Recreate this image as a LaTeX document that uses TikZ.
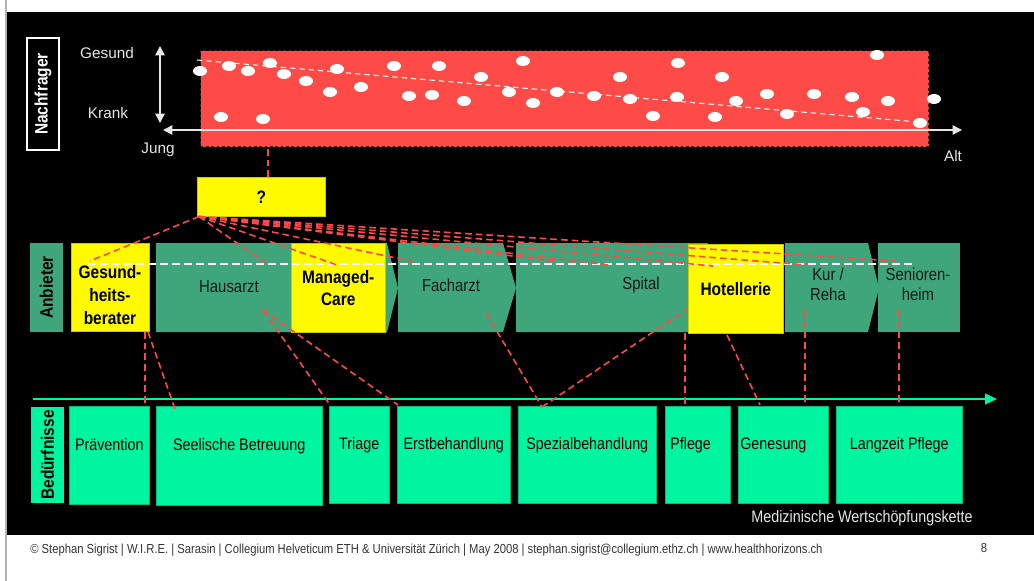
\documentclass[tikz,border=0pt]{standalone}
\usepackage{fontspec}
\setmainfont{Liberation Sans}
\newfontfamily\cond[FakeStretch=0.86]{Liberation Sans}
\usetikzlibrary{arrows.meta}

\definecolor{markt}{RGB}{255,75,72}
\definecolor{strich}{RGB}{255,72,72}
\definecolor{prov}{RGB}{62,166,122}
\definecolor{need}{RGB}{0,245,160}
\definecolor{gelb}{RGB}{255,250,0}
\definecolor{hell}{RGB}{230,230,230}

\tikzset{
  blk/.style 2 args={rectangle, anchor=north west, inner sep=0pt,
    minimum width=#1*0.75pt, minimum height=#2*0.75pt},
  side/.style={rectangle, rotate=90, inner sep=0pt,
    font=\cond\bfseries\fontsize{13.5}{16}\selectfont},
  gelbbox/.style={fill=gelb, draw=gelb!80!black, line width=0.4pt, align=center,
    font=\cond\bfseries\fontsize{13.5}{16.5}\selectfont},
  provtext/.style={align=center, text=black!90, inner sep=0pt,
    font=\cond\fontsize{13}{15}\selectfont},
  needbox/.style 2 args={blk={#1}{#2}, fill=need, draw=need!75!black, line width=0.4pt,
    text height=9pt, text depth=16.5pt, font=\cond\fontsize{12.5}{15}\selectfont},
  axislbl/.style={text=hell, inner sep=0pt, font=\fontsize{11.5}{14}\selectfont},
  rdash/.style={draw=strich, dash pattern=on 5pt off 3pt, line width=1.2pt},
  wdash/.style={draw=white, dash pattern=on 6pt off 3pt, line width=1.2pt},
  pfeil/.style={draw=hell, line width=1.1pt},
}

\begin{document}
\begin{tikzpicture}[x=0.75pt,y=-0.75pt]

		\useasboundingbox (0,0) rectangle (1034,581);
		\fill[black] (5,12) rectangle (1034,535);
		\draw[gray!60, line width=1.5pt] (6,0) -- (6,581);

		% Nachfrager
		\node[side, draw=white, line width=1pt, text=white, minimum width=112*0.75pt, minimum height=32*0.75pt] (nachfrager) at (43,94) {Nachfrager};
		\node[blk={728}{96}, fill=markt, draw=black!70!markt, dash pattern=on 2pt off 2pt, line width=1pt] (markt) at (200,50) {};

		\foreach \x/\y in {200/71,229/66,248/71,270/63,284/74,306/81,330/92,337/69,361/87,394/66,
		    409/96,432/95,439/66,464/101,481/77,509/92,523/61,221/117,263/119,533/103,557/92,594/96,
		    620/77,630/99,653/116,678/63,677/97,715/117,722/77,736/101,767/94,787/114,814/94,852/97,
		    863/112,877/55,888/101,920/123,934/99}
		    \fill[white] (\x,\y) ellipse [x radius=5.25pt, y radius=3.75pt];

		\draw[white, dash pattern=on 4pt off 3pt, line width=0.8pt] (197,60) -- (918,122);
		\draw[pfeil, {Triangle[length=7pt,width=7pt]}-{Triangle[length=7pt,width=7pt]}] (160,46) -- (160,123);
		\draw[pfeil, {Triangle[length=7pt,width=7pt]}-{Triangle[length=7pt,width=7pt]}] (163,130) -- (962,130);

		\node[axislbl] (gesund) at (107,53) {Gesund};
		\node[axislbl] (krank) at (108,113) {Krank};
		\node[axislbl] (jung) at (158,150) {Jung};
		\node[axislbl] (alt) at (953,156) {Alt};

		\node[blk={128}{39}, gelbbox] (frage) at (197,177) {?};
		\draw[rdash] ([xshift=5pt]frage.north) -- ([xshift=5pt]frage.north |- markt.south);

		% Anbieter
		\node[side, fill=prov, minimum width=89*0.75pt, minimum height=33*0.75pt] (anbieter) at (46.5,287.5) {Anbieter};

		\foreach \xa/\xb/\xc in {156/387/398, 398/503/516, 516/708/720, 785/868/879}
		    \fill[prov] (\xa,243) -- (\xb,243) -- (\xc,288) -- (\xb,332) -- (\xa,332) -- cycle;
		\fill[prov] (878,243) rectangle (960,332);

		\node[provtext] (hausarzt) at (229,287) {Hausarzt};
		\node[provtext] (facharzt) at (451,285) {Facharzt};
		\node[provtext] (spital) at (641,285) {Spital};
		\node[provtext] (kur) at (828,284) {Kur /\\Reha};
		\node[provtext] (senioren) at (918,284) {Senioren-\\heim};

		\node[blk={78}{88}, gelbbox] (berater) at (71,243) {};
		\node[gelbbox, fill=none, draw=none, inner sep=0pt, font=\cond\bfseries\fontsize{13.5}{17}\selectfont] (beratertext) at (110,295) {Gesund-\\heits-\\berater};
		\node[blk={94}{89}, gelbbox] (managed) at (291,243) {Managed-\\Care};
		\node[blk={95}{89}, gelbbox] (hotel) at (688,244) {Hotellerie};

		\draw[wdash] (88,264) -- (915,264);

		\coordinate (f1) at (90,261);
		\coordinate (f2) at (267,264);
		\coordinate (f3) at (337,265);
		\coordinate (f4) at (415,262);
		\coordinate (f5) at (560,262);
		\coordinate (f6) at (610,265);
		\coordinate (f7) at (713,266);
		\coordinate (f8) at (807,265);
		\coordinate (f9) at (895,261);
		\foreach \i in {1,...,9}
		    \draw[rdash] ([xshift=1.5pt]frage.south west) -- (f\i);

		% Bedürfnisse
		\draw[need, line width=1.6pt, -{Triangle[length=9pt,width=8pt]}] (33,399) -- (997,399);

		\node[side, fill=need, minimum width=96*0.75pt, minimum height=33*0.75pt] (beduerf) at (47.5,455) {Bedürfnisse};
		\node[needbox={80}{98}] (praev) at (69,406) {Prävention};
		\node[needbox={166}{99}] (seele) at (156,406) {Seelische Betreuung};
		\node[needbox={60}{97}] (triage) at (329,406) {Triage};
		\node[needbox={113}{97}] (erst) at (397,406) {Erstbehandlung};
		\node[needbox={138}{97}] (spez) at (518,406) {Spezialbehandlung};
		\node[needbox={65}{97}, text width=55*0.75pt, inner xsep=5*0.75pt, align=left] (pflege) at (665,406) {Pflege};
		\node[needbox={90}{97}, text width=86*0.75pt, inner xsep=2*0.75pt, align=left] (genesung) at (738,406) {Genesung};
		\node[needbox={126}{97}] (langzeit) at (836,406) {Langzeit Pflege};

		\coordinate (b1) at (145,332);
		\coordinate (b2) at (148,332);
		\coordinate (b3) at (263,310);
		\coordinate (b4) at (486,313);
		\coordinate (b5) at (687,309);
		\coordinate (b6) at (685,333);
		\coordinate (b7) at (727,335);
		\coordinate (b8) at (805,310);
		\coordinate (b9) at (899,310);
		\coordinate (n1) at (145,406);
		\coordinate (n2) at (175,409);
		\coordinate (n3) at (330,405);
		\coordinate (n4) at (398,405);
		\coordinate (n5) at (542,407);
		\coordinate (n6) at (685,405);
		\coordinate (n7) at (760,405);
		\coordinate (n8) at (805,405);
		\coordinate (n9) at (899,405);
		\foreach \a/\b in {b1/n1, b2/n2, b3/n3, b3/n4, b4/n5, n5/b5, b6/n6, b7/n7, b8/n8, b9/n9}
		    \draw[rdash] (\a) -- (\b);

		\node[text=hell, font=\cond\fontsize{12.5}{15}\selectfont] (kette) at (862,518) {Medizinische Wertschöpfungskette};

		\node[anchor=west, inner sep=0pt, text=black!80, font=\cond\fontsize{9.8}{11}\selectfont] (fuss) at (30,550)
		    {© Stephan Sigrist | W.I.R.E. | Sarasin | Collegium Helveticum ETH \& Universität  Zürich |  May  2008 |  stephan.sigrist@collegium.ethz.ch | www.healthhorizons.ch};
		\node[inner sep=0pt, text=black!80, font=\cond\fontsize{9.8}{11}\selectfont] (seite) at (984,548) {8};

\end{tikzpicture}
\end{document}
